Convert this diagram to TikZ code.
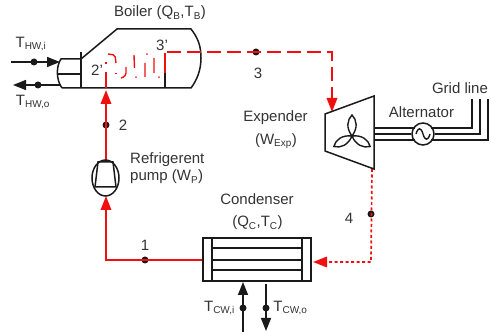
\documentclass[tikz,border=0pt]{standalone}
\usepackage{fontspec}
\setmainfont{Liberation Sans}
\usetikzlibrary{arrows.meta,shapes.geometric}
\definecolor{txt}{HTML}{333333}
\definecolor{ln}{HTML}{1A1A1A}
\definecolor{rd}{HTML}{F01010}
\tikzset{
 lab/.style={font=\fontsize{15}{17}\selectfont,text=txt,inner sep=0pt},
 blk/.style={draw=ln,line width=1.5pt},
 dotk/.style={circle,fill=ln,inner sep=0pt,minimum size=7pt},
 hot/.style={draw=rd,line width=1.8pt},
 coil/.style={draw=rd,line width=1.4pt},
 redtip/.style={-{Triangle[length=14pt,width=10.5pt,color=rd]}},
 blktip/.style={-{Triangle[length=13pt,width=10pt,color=ln]}},
}
\newcommand{\sbs}[1]{\textsubscript{\fontsize{10}{11}\selectfont #1}}
\begin{document}
\begin{tikzpicture}[x=1pt,y=-1pt]
\useasboundingbox (0,0) rectangle (491,334);
% boiler
\draw[blk] (81,59) -- (117,29) -- (191,29) .. controls (198,38) and (201,46) .. (201,58) .. controls (201,70) and (197,80) .. (191,88) -- (62,88);
\draw[blk] (81,52) -- (81,88);
\draw[blk] (81,59) -- (61,59) .. controls (56,66) and (56,80) .. (62,88);
\draw[blk] (58,74) -- (81,74);
\draw[blk] (165,73) -- (165,88);
\draw[coil,line width=1.6pt] (165,53) -- (165,73);
% coil
\draw[coil] (106,88) -- (106,72) (106,62) -- (106,64);
\draw[coil,rounded corners=2pt] (108,54) -- (115,55) -- (116,63);
\draw[coil] (116,73) -- (116,74.5);
\draw[coil,rounded corners=3pt] (126,67) -- (126,76) -- (121,78);
\draw[coil] (134,55) -- (134.5,68) (136,76.5) -- (136,78) (145,63) -- (145,77) (147,53.5) -- (147,55) (154,58) -- (154,73) (159,76.5) -- (159,78);
% loop connectors
\node[dotk] (d2) at (106,125) {};
\node[dotk] (d3) at (256,52) {};
\node[dotk] (d4) at (371,214) {};
\node[dotk] (d1) at (145,260) {};
\coordinate (boilerout) at (167,52);
\coordinate (boilerin) at (106,90);
\coordinate (pumptop) at (106,160);
\coordinate (pumpbot) at (106,196);
\coordinate (exptop) at (332,112);
\coordinate (expbot) at (372,169);
\coordinate (condl) at (203,260);
\coordinate (condr) at (313,262);
\draw[hot,redtip] (pumptop) -- (boilerin);
\draw[hot,redtip] (condl) -- (106,260) -- (pumpbot);
\draw[hot,line width=1.7pt,dash pattern=on 14pt off 6pt,redtip] (boilerout) -- (332,52) -- (exptop);
\draw[hot,line width=1.7pt,dash pattern=on 3pt off 2.5pt,redtip] (expbot) -- (371,262) -- (condr);
% pump
\node[draw=ln,line width=1.5pt,ellipse,minimum width=27pt,minimum height=36pt,inner sep=0pt] (pump) at (105.5,178) {};
\draw[blk] (98,162) -- (113,162) -- (116,187) -- (95,187) -- cycle;
% expander
\draw[blk,line join=miter] (325,114) -- (374,96) -- (374,169) -- (325,151) -- cycle;
\foreach \a in {90,210,330}{
 \draw[ln,line width=1.4pt,rotate around={\a-90:(352,136)}] (352,136) .. controls (346,128) and (347,120) .. (352,115) .. controls (357,120) and (358,128) .. (352,136);
}
% alternator and grid
\node[draw=ln,line width=1.5pt,circle,minimum size=22pt,inner sep=0pt] (alt) at (423,134) {};
\draw[ln,line width=1.4pt] (416,134) .. controls (418,127) and (421,127) .. (423,134) .. controls (425,141) and (428,141) .. (430,134);
\draw[blk,line width=1.3pt] (374,128) -- (415,128) (374,134) -- (alt.west) (374,140) -- (415,140);
\draw[blk,line width=1.3pt] (431,128) -- (472,128) -- (472,99);
\draw[blk,line width=1.3pt] (alt.east) -- (480,134) -- (480,99);
\draw[blk,line width=1.3pt] (431,140) -- (488,140) -- (488,99);
% condenser
\draw[blk] (203,238) rectangle (311,281);
\draw[blk] (212,238) -- (212,281) (302,238) -- (302,281);
\draw[ln,line width=1.3pt] (212,248) -- (302,248) (212,260) -- (302,260) (212,270) -- (302,270);
% hot water
\node[dotk] (hi) at (34,62) {};
\node[dotk] (ho) at (38,85) {};
\coordinate (hia) at (11,62);
\coordinate (hib) at (60,62);
\coordinate (hoa) at (60,85);
\coordinate (hob) at (13,85);
\draw[blk,blktip] (hia) -- (hib);
\draw[blk,blktip] (hoa) -- (hob);
% cooling water
\node[dotk] (ci) at (243,308) {};
\node[dotk] (co) at (266,308) {};
\coordinate (cia) at (243,332);
\coordinate (cib) at (243,282);
\coordinate (coa) at (266,284);
\coordinate (cob) at (266,331);
\draw[blk,blktip] (cia) -- (cib);
\draw[blk,blktip] (coa) -- (cob);
% labels
\node[lab] (lb) at (160,13) {Boiler (Q\sbs{B},T\sbs{B})};
\node[lab] (l3p) at (162,45) {3'};
\node[lab] (l2p) at (97,70) {2'};
\node[lab] (l2) at (123,125) {2};
\node[lab] (l3) at (258,73) {3};
\node[lab] (l1) at (145,245) {1};
\node[lab] (l4) at (349,218) {4};
\node[lab] (thi) at (31,44) {T\sbs{HW,i}};
\node[lab] (tho) at (33,102) {T\sbs{HW,o}};
\node[lab,anchor=west] (rp) at (130,160) {Refrigerent};
\node[lab,anchor=west] (pp) at (130,177) {pump (W\sbs{P})};
\node[lab] (ex) at (275.5,118) {Expender};
\node[lab] (we) at (276,141) {(W\sbs{Exp})};
\node[lab] (al) at (421.5,112) {Alternator};
\node[lab] (gl) at (460,88) {Grid line};
\node[lab] (co1) at (257,199) {Condenser};
\node[lab] (co2) at (257.5,223) {(Q\sbs{C},T\sbs{C})};
\node[lab] (tci) at (219.5,308) {T\sbs{CW,i}};
\node[lab] (tco) at (290.5,308) {T\sbs{CW,o}};
\end{tikzpicture}
\end{document}
